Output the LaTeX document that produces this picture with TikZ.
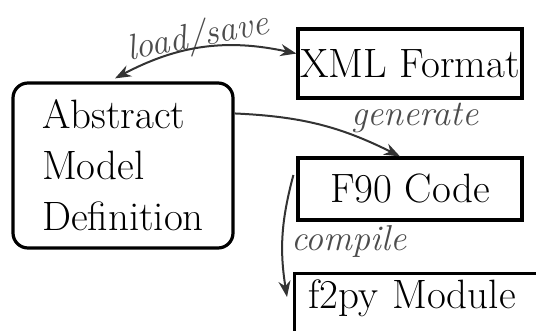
\documentclass[tikz,border=0pt]{standalone}
\usetikzlibrary{arrows.meta, positioning}

\begin{document}
\begin{tikzpicture}[
    x=0.5pt, y=-0.5pt,
    box/.style={
      rectangle, draw=black, line width=1.6pt,
      minimum width=112pt, minimum height=31pt,
      inner sep=0pt, font=\fontsize{20.5}{25.5}\selectfont
    },
    rbox/.style={
      box, rounded corners=7.5pt, align=left,
      minimum width=110pt, minimum height=82.5pt
    },
    lbl/.style={
      text=black!70, inner sep=0pt,
      font=\fontsize{18}{21}\selectfont\itshape
    },
    arr/.style={>={Stealth[length=8pt, width=6pt]}, line width=1pt, draw=black!80}
  ]
  \useasboundingbox (0,0) rectangle (536,331);

  \node[rbox] (amd) at (123,165.5) {Abstract\\Model\\Definition};
  \node[box, minimum height=34.5pt] (xml) at (410,63.5) {XML Format};
  \node[box] (f90) at (410,189) {F90 Code};
  \node[box, anchor=north west, align=left, text width=125pt,
        inner xsep=7pt, inner ysep=2.5pt,
        text height=15pt, text depth=20pt] (f2py) at (293,272) {f2py Module};

  % labels
  \node[lbl, rotate=11] (lsv) at (198,38) {load/save};
  \node[lbl] (gen) at (415,118) {generate};
  \node[lbl] (cmp) at (349,242) {compile};

  \draw[arr, <->] ([xshift=-4pt, yshift=1.5pt]amd.north) to[bend left=20] (xml.175);
  \draw[arr, ->] (amd.25) to[bend left=12] ([xshift=-5pt]f90.north);
  \draw[arr, ->] ([xshift=-1.5pt, yshift=7pt]f90.west) to[bend right=12]
        ([xshift=-3pt, yshift=-12.5pt]f2py.north west);
\end{tikzpicture}
\end{document}
